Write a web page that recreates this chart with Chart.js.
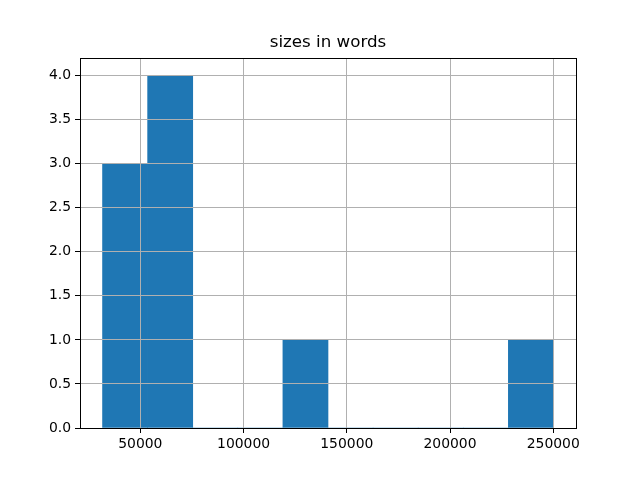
<!DOCTYPE html>
<html>
<head>
<meta charset="utf-8">
<script src="https://cdn.jsdelivr.net/npm/chart.js@4"></script>
<style>
  html, body { margin: 0; padding: 0; background: #fff; }
  #wrap { width: 640px; height: 480px; }
</style>
</head>
<body>
<div id="wrap"><canvas id="histChart" width="640" height="480"></canvas></div>
<script>
// histogram bins (edges) and counts
const binEdges = [31700, 53540, 75380, 97220, 119060, 140900, 162740, 184580, 206420, 228260, 250100];
const counts = [3, 4, 0, 0, 1, 0, 0, 0, 0, 1];
const xTicks = [50000, 100000, 150000, 200000, 250000];
const yTicks = [0, 0.5, 1, 1.5, 2, 2.5, 3, 3.5, 4];

const pad = (binEdges[binEdges.length - 1] - binEdges[0]) * 0.05;

const points = counts.map((c, i) => ({ x: (binEdges[i] + binEdges[i + 1]) / 2, y: c }));

const tickFont = { family: 'DejaVu Sans', size: 13.9 };

// kotak hitam di sekeliling area plot
const frame = {
    id: 'frame',
    afterDraw(chart) {
        const { ctx, chartArea: a } = chart;
        ctx.save();
        ctx.strokeStyle = '#000';
        ctx.lineWidth = 1;
        ctx.strokeRect(Math.round(a.left) + 0.5, Math.round(a.top) + 0.5,
            Math.round(a.right - a.left), Math.round(a.bottom - a.top));
        ctx.restore();
    }
};

const ctx = document.getElementById('histChart').getContext('2d');
new Chart(ctx, {
    type: 'bar',
    data: {
        datasets: [{
            data: points,
            backgroundColor: '#1f77b4',
            borderWidth: 0,
            barPercentage: 1,
            categoryPercentage: 1,
        }]
    },
    options: {
        responsive: false,
        animation: false,
        layout: { padding: { left: 0, right: 64, top: 0, bottom: 0 } },
        plugins: {
            legend: { display: false },
            tooltip: { enabled: false },
            title: {
                display: true,
                fullSize: false,
                text: 'sizes in words',
                color: '#000',
                font: { family: 'DejaVu Sans', size: 16.7, weight: 'normal' },
                padding: { top: 33, bottom: 5 },
            },
        },
        scales: {
            x: {
                type: 'linear',
                offset: false,
                min: binEdges[0] - pad,
                max: binEdges[binEdges.length - 1] + pad,
                afterBuildTicks: (axis) => { axis.ticks = xTicks.map(v => ({ value: v })); },
                afterFit: (scale) => { scale.height = 52; },
                grid: { z: 1, offset: false, color: '#b0b0b0', lineWidth: 1, tickColor: '#000', tickLength: 5 },
                border: { z: 2, color: '#000' },
                ticks: {
                    color: '#000',
                    font: tickFont,
                    padding: 3,
                    maxRotation: 0,
                    callback: (v) => String(v),
                },
            },
            y: {
                min: 0,
                max: 4.2,
                afterBuildTicks: (axis) => { axis.ticks = yTicks.map(v => ({ value: v })); },
                afterFit: (scale) => { scale.width = 80; },
                grid: { z: 1, color: '#b0b0b0', lineWidth: 1, tickColor: '#000', tickLength: 5 },
                border: { z: 2, color: '#000' },
                ticks: {
                    color: '#000',
                    font: tickFont,
                    padding: 4,
                    callback: (v) => Number(v).toFixed(1),
                },
            },
        },
    },
    plugins: [frame],
});
</script>
</body>
</html>
